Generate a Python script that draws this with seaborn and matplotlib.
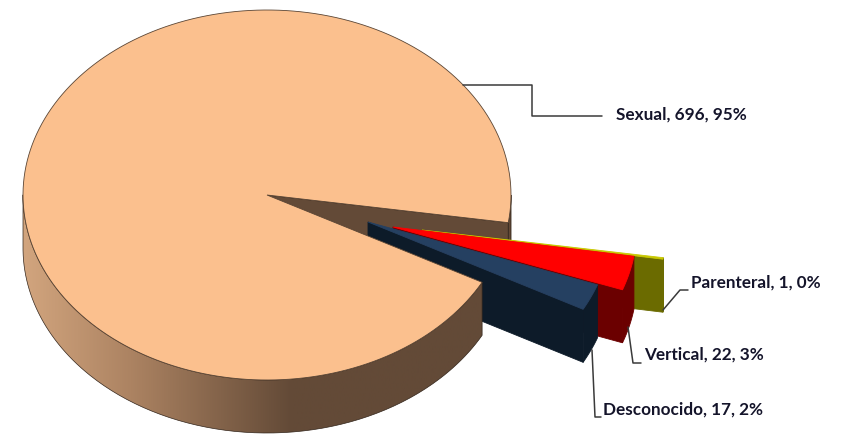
import numpy as np
import matplotlib.pyplot as plt
import seaborn as sns
from matplotlib.colors import LinearSegmentedColormap
from matplotlib.patches import Polygon

# datos del grafico
categories = ["Sexual", "Desconocido", "Vertical", "Parenteral"]
cases = [696, 17, 22, 1]
percents = [95, 2, 3, 0]

top_colors = ["#FBC08E", "#254061", "#FF0000", "#C8C800"]
side_colors = ["#634A37", "#0D1B29", "#6B0000", "#6B6B00"]

sns.set_theme(style="white")
plt.rcParams["font.family"] = ["Lato", "DejaVu Sans"]

# geometria de la tarta en pixeles
cx, cy = 267, 195
rx, ry = 244, 185
depth = 53
start = -8.6
apex = {"Desconocido": (368, 222), "Vertical": (393, 227), "Parenteral": (422, 230)}


def arc(x0, y0, a0, a1, drop=0):
    t = np.radians(np.linspace(a0, a1, 200))
    return np.column_stack([x0 + rx * np.cos(t), y0 - ry * np.sin(t) + drop])


def poly(ax, pts, color, edge=None, z=2):
    ax.add_patch(Polygon(pts, closed=True, facecolor=color, edgecolor=edge or color, lw=0.6, zorder=z))


fig, ax = plt.subplots(figsize=(8.43, 4.34), dpi=100)
ax.set_position([0, 0, 1, 1])

# angulos a partir de los valores
angles = np.array(cases) / sum(cases) * 360
sexual_end = start + angles[0]

# trozo derecho del lateral y pared del corte, detras de los sectores
poly(ax, np.vstack([arc(cx, cy, start, 0), arc(cx, cy, 0, start, depth)]), side_colors[0], "#33261c", 1.6)
outer = arc(cx, cy, start, start)[0]
poly(ax, [(cx, cy), outer, outer + [0, depth], (cx, cy + depth)], side_colors[0], "#33261c", 1.7)

# sectores separados
a0 = sexual_end - 360
z = 6
for name, ang, top, dark in zip(categories[1:], angles[1:], top_colors[1:], side_colors[1:]):
    x0, y0 = apex[name]
    a1 = a0 + ang
    low = arc(x0, y0, a0, a0)[0]
    curve = arc(x0, y0, a0, a1)
    poly(ax, [(x0, y0), low, low + [0, depth], (x0, y0 + depth)], dark, z=z)
    poly(ax, np.vstack([curve, (curve + [0, depth])[::-1]]), dark, z=z)
    poly(ax, np.vstack([[(x0, y0)], curve]), top, z=z + 0.5)
    a0 = a1
    z -= 1

# cara lateral con degradado, delante de los sectores
side = np.vstack([arc(cx, cy, 180, sexual_end), arc(cx, cy, sexual_end, 180, depth)])
cmap = LinearSegmentedColormap.from_list("side", [(0, "#D2A57E"), (0.22, "#AC8362"), (0.55, "#634A37"), (1, "#634A37")])
grad = ax.imshow(np.linspace(0, 1, 256)[None, :], extent=(cx - rx, cx + rx, cy + ry + depth, cy - ry), cmap=cmap, aspect="auto", zorder=7)
clip = Polygon(side, closed=True, transform=ax.transData)
grad.set_clip_path(clip)
ax.plot(np.append(side[:, 0], side[0, 0]), np.append(side[:, 1], side[0, 1]), color="#33261c", lw=0.5, zorder=7.2)

# cara superior del sector mayor
poly(ax, np.vstack([[(cx, cy)], arc(cx, cy, start, sexual_end)]), top_colors[0], "#5a4534", 7.5)

# lineas guia y etiquetas
leaders = [
    ([463, 532, 532, 602], [85, 85, 116, 116]),
    ([592, 595, 601], [350, 417, 417]),
    ([628, 633, 641], [327, 363, 363]),
    ([663, 680, 688], [310, 290, 290]),
]
label_pos = [(616, 115), (603, 410), (644, 355), (691, 283)]
for (xs, ys), (lx, ly), name, n, p in zip(leaders, label_pos, categories, cases, percents):
    ax.plot(xs, ys, color="#3a3a3a", lw=1.1, zorder=8)
    ax.text(lx, ly, f"{name}, {n}, {p}%", fontsize=12.3, fontweight="bold", color="#14142a", ha="left", va="center", zorder=9)

ax.set_xlim(0, 843)
ax.set_ylim(434, 0)
ax.axis("off")

fig.savefig("out.png", dpi=100, facecolor="white")
